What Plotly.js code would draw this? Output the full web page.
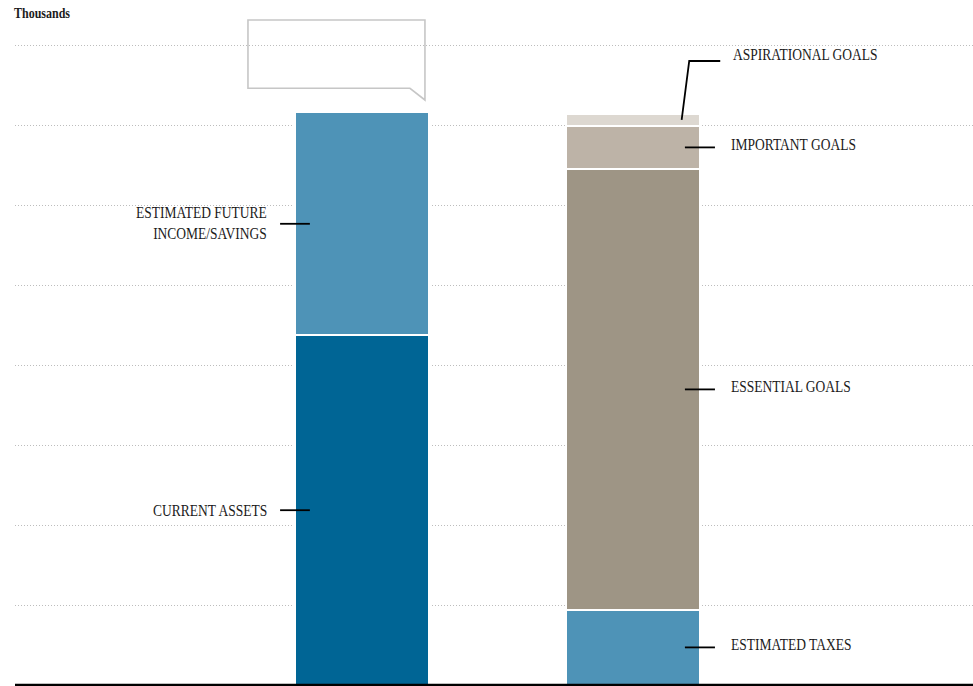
<!DOCTYPE html>
<html>
<head>
<meta charset="utf-8">
<script src="https://cdn.plot.ly/plotly-3.0.1.min.js"></script>
<style>
  html, body { margin: 0; padding: 0; background: #ffffff; }
  #chart { width: 973px; height: 686px; }
  /* tall, narrow label lettering */
  #chart .annotation-text {
    transform-box: fill-box;
    transform-origin: center;
    transform: scaleY(1.2);
  }
</style>
</head>
<body>
<div id="chart"></div>
<script>
// Funding sources (left column) against spending goals (right column), in thousands
const columnPositions = [0, 1];

const sourceNames = ['CURRENT ASSETS', 'ESTIMATED FUTURE<br>INCOME/SAVINGS'];
const sourceValues = [437, 279];

const goalNames = ['ESTIMATED TAXES', 'ESSENTIAL GOALS', 'IMPORTANT GOALS', 'ASPIRATIONAL GOALS'];
const goalValues = [94, 551, 54, 15];

const sourceColors = ['#006595', '#4e93b7'];
const goalColors = ['#4e93b7', '#9e9585', '#bdb3a7', '#ddd8d1'];

const FONT = 'Liberation Serif, Times New Roman, serif';
const INK = '#1b1b1b';
const BAR_WIDTH = 0.495;

// One single-point trace per stacked segment
const traces = [];
function addStack(col, names, values, colors) {
  names.forEach((name, i) => {
    traces.push({
      type: 'bar',
      name: name.replace('<br>', ' '),
      x: [columnPositions[col]],
      y: [values[i]],
      width: BAR_WIDTH,
      marker: { color: colors[i], line: { color: '#ffffff', width: 2 } },
      hoverinfo: 'skip',
      showlegend: false
    });
  });
}
addStack(0, sourceNames, sourceValues, sourceColors);
addStack(1, goalNames, goalValues, goalColors);

// Segment midpoints for labels and leader lines
function midpoints(values) {
  const out = [];
  let base = 0;
  values.forEach(v => { out.push(base + v / 2); base += v; });
  return out;
}
const sourceMids = midpoints(sourceValues);
const goalMids = midpoints(goalValues);
const goalTotal = goalValues.reduce((a, b) => a + b, 0);

const shapes = [];
const annotations = [];
const leader = { color: '#000000', width: 1.8 };

// Left column labels: right-aligned text, short leader into the bar
sourceNames.forEach((name, i) => {
  const y = sourceMids[i];
  shapes.push({ type: 'line', xref: 'x', yref: 'y', x0: columnPositions[0] - 0.302, x1: columnPositions[0] - 0.192, y0: y, y1: y, line: leader });
  annotations.push({
    xref: 'x', yref: 'y', x: columnPositions[0] - 0.343, y: y,
    xanchor: 'right', yanchor: 'middle', align: 'right', showarrow: false,
    text: name, font: { family: FONT, size: 13.5, color: INK }
  });
});

// Right column labels: left-aligned text
const rightTextX = columnPositions[1] + 0.363;
goalNames.forEach((name, i) => {
  const y = goalMids[i];
  const last = i === goalNames.length - 1;
  if (last) {
    // the thin top segment gets a bent leader lifted above the stack
    const labelY = goalTotal + 66;
    shapes.push({
      type: 'path', xref: 'x', yref: 'y',
      path: 'M' + (columnPositions[1] + 0.181) + ',' + y +
            ' L' + (columnPositions[1] + 0.209) + ',' + labelY +
            ' L' + (columnPositions[1] + 0.3235) + ',' + labelY,
      line: leader
    });
    annotations.push({
      xref: 'x', yref: 'y', x: rightTextX, y: labelY, yshift: 6.5,
      xanchor: 'left', yanchor: 'middle', showarrow: false,
      text: name, font: { family: FONT, size: 13.5, color: INK }
    });
  } else {
    shapes.push({ type: 'line', xref: 'x', yref: 'y', x0: columnPositions[1] + 0.193, x1: columnPositions[1] + 0.304, y0: y, y1: y, line: leader });
    annotations.push({
      xref: 'x', yref: 'y', x: rightTextX - 0.008, y: y, yshift: 3,
      xanchor: 'left', yanchor: 'middle', showarrow: false,
      text: name, font: { family: FONT, size: 13.5, color: INK }
    });
  }
});

// Empty callout bubble above the left column
shapes.push({
  type: 'path', xref: 'x', yref: 'y',
  path: 'M-0.4206,831.25 L0.2330,831.25 L0.2330,731.25 L0.1776,745.9 L-0.4206,745.9 Z',
  line: { color: '#c6c6c6', width: 1.6 },
  fillcolor: 'rgba(255,255,255,0)'
});

// Baseline
shapes.push({
  type: 'line', xref: 'paper', yref: 'y', x0: 0, x1: 1, y0: 0, y1: 0,
  line: { color: '#000000', width: 2.6 }
});

// Unit note
annotations.push({
  xref: 'paper', yref: 'paper', x: 0, y: 1, xshift: -3, yshift: -3,
  xanchor: 'left', yanchor: 'middle', showarrow: false,
  text: '<b>Thousands</b>', font: { family: FONT, size: 12, color: INK }
});

const layout = {
  width: 973,
  height: 686,
  margin: { l: 15, r: 0, t: 10, b: 0, pad: 0 },
  paper_bgcolor: '#ffffff',
  plot_bgcolor: '#ffffff',
  barmode: 'stack',
  showlegend: false,
  xaxis: {
    type: 'linear',
    range: [-1.281, 2.257],
    showgrid: false, zeroline: false, showline: false,
    showticklabels: false, ticks: ''
  },
  yaxis: {
    range: [-1.25, 843.75],
    tick0: 0, dtick: 100,
    showgrid: true, gridcolor: '#bdbdbd', gridwidth: 1, griddash: '1px,2px',
    zeroline: false, showline: false,
    showticklabels: false, ticks: ''
  },
  shapes: shapes,
  annotations: annotations
};

Plotly.newPlot('chart', traces, layout, { displayModeBar: false, staticPlot: true });
</script>
</body>
</html>
